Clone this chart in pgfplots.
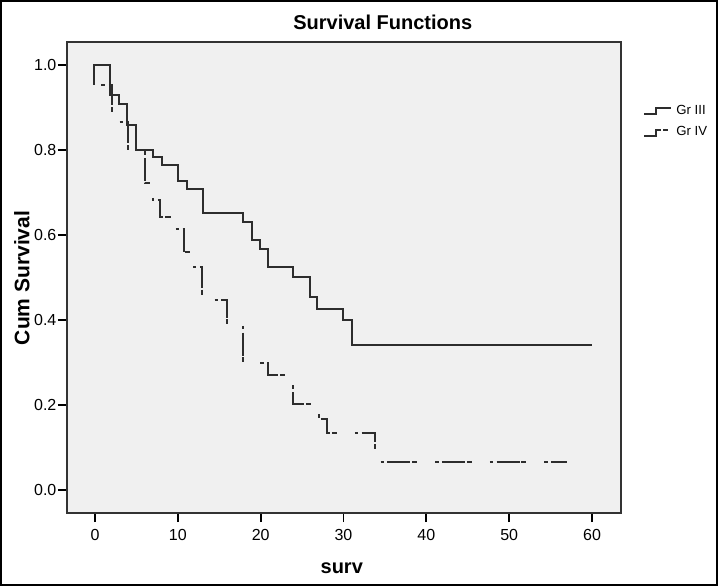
\documentclass[border=0pt]{standalone}
\usepackage{fontspec}
\setmainfont{Liberation Sans}
\usepackage{pgfplots}
\pgfplotsset{compat=1.18}
\definecolor{plotbg}{RGB}{240,240,240}
\definecolor{linec}{RGB}{45,45,45}
\begin{document}
\begin{tikzpicture}
\begin{axis}[
  scale only axis, width=277pt, height=235.5pt,
  xmin=-3.38, xmax=63.5, ymin=-0.054, ymax=1.054,
  axis background/.style={fill=plotbg},
  axis line style={line width=0.8pt, black!80},
  xtick={0,10,20,30,40,50,60}, ytick={0,0.2,0.4,0.6,0.8,1},
  tick align=outside, major tick length=4.5pt,
  xtick pos=bottom, ytick pos=left,
  tick style={line width=0.9pt, black},
  /pgf/number format/assume math mode=true,
  yticklabel style={/pgf/number format/fixed, /pgf/number format/fixed zerofill, /pgf/number format/precision=1, inner sep=0.6pt},
  ticklabel style={font=\fontsize{8}{9.6}\selectfont},
  clip=false,
  legend cell align=left,
  legend style={at={(rel axis cs:1.0397,0.875)}, anchor=north west, draw=none, fill=none,
    font=\fontsize{6.6}{7.9}\selectfont, inner sep=0pt, row sep=0.5pt},
  legend image code/.code={\draw[#1] (0pt,-1.5pt) -- (6pt,-1.5pt) -- (6pt,1.5pt) -- (13.5pt,1.5pt);},
]
\addplot[linec, line width=1pt, solid] coordinates {
 (0,1)(1.8,1)(1.8,0.93)(2.9,0.93)(2.9,0.909)(3.9,0.909)(3.9,0.858)(4.95,0.858)(4.95,0.801)
 (7,0.801)(7,0.784)(8.05,0.784)(8.05,0.764)(10.06,0.764)(10.06,0.728)(11.07,0.728)(11.07,0.709)
 (13,0.709)(13,0.651)(17.9,0.651)(17.9,0.630)(18.9,0.630)(18.9,0.589)(19.9,0.589)(19.9,0.568)
 (20.9,0.568)(20.9,0.525)(23.9,0.525)(23.9,0.501)(26,0.501)(26,0.454)(26.8,0.454)(26.8,0.427)
 (30,0.427)(30,0.400)(31,0.400)(31,0.342)(60,0.342)};
\addlegendentry{Gr III}
\addplot[linec, line width=1pt, dash pattern=on 11.5pt off 0.9pt on 2.5pt off 9pt on 1.7pt off 1.7pt] coordinates {
 (-0.1,0.953)(-0.1,1)(0.9,1)(0.9,0.953)(2,0.953)(2,0.866)(4,0.866)(4,0.795)(6,0.795)(6,0.722)
 (7,0.722)(7,0.683)(7.9,0.683)(7.9,0.642)(9,0.642)(9,0.613)(10.7,0.613)(10.7,0.560)(11.8,0.560)
 (11.8,0.525)(12.9,0.525)(12.9,0.447)(15.9,0.447)(15.9,0.388)(17.9,0.388)(17.9,0.298)(20.9,0.298)
 (20.9,0.270)(23.9,0.270)(23.9,0.202)(27,0.202)(27,0.168)(28,0.168)(28,0.135)(33.8,0.135)
 (33.8,0.067)(57,0.067)};
\addlegendentry{Gr IV}
\node[font=\bfseries\fontsize{10}{12}\selectfont, anchor=center] at (rel axis cs:0.570,1.0425) {Survival Functions};
\node[font=\bfseries\fontsize{10}{12}\selectfont, anchor=center] at (rel axis cs:0.496,-0.117) {surv};
\node[font=\bfseries\fontsize{10.5}{12.6}\selectfont, anchor=center, rotate=90] at (rel axis cs:-0.0812,0.499) {Cum Survival};
\coordinate (fsw) at (rel axis cs:-0.1209,-0.155);
\coordinate (fne) at (rel axis cs:1.1751,1.0892);
\coordinate (isw) at (rel axis cs:-0.1191,-0.1529);
\coordinate (ine) at (rel axis cs:1.1733,1.0870);
\end{axis}
\pgfresetboundingbox
\path[use as bounding box] (fsw) rectangle (fne);
\draw[line width=1pt, black] (isw) rectangle (ine);
\end{tikzpicture}
\end{document}
